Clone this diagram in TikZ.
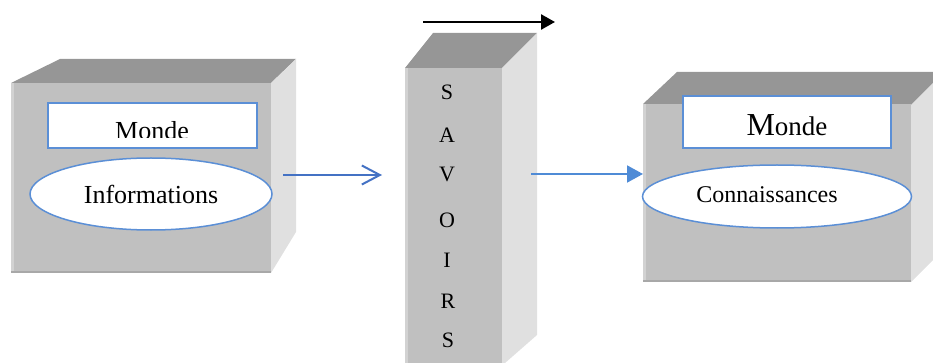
\documentclass[tikz,border=0pt]{standalone}
\usepackage{fontspec}
\setmainfont{Liberation Serif}
\usetikzlibrary{arrows.meta,shapes.geometric}
\definecolor{cfront}{HTML}{C0C0C0}
\definecolor{ctop}{HTML}{969696}
\definecolor{cside}{HTML}{E0E0E0}
\definecolor{cedgeL}{HTML}{D2D2D2}
\definecolor{cedgeB}{HTML}{A8A8A8}
\definecolor{bline}{HTML}{5B8FD6}
\definecolor{bdark}{HTML}{4472C4}
\definecolor{barrow}{HTML}{4F8BD6}
\begin{document}
\begin{tikzpicture}[x=1pt,y=-1pt,
  monbox/.style={draw=bline,line width=1.8pt,fill=white,rectangle,inner sep=0pt},
  ell/.style={draw=bline,line width=1.5pt,fill=white,ellipse,inner sep=0pt},
  txt/.style={inner sep=0pt,anchor=base},
  letter/.style={inner sep=0pt,anchor=base,font=\fontsize{22}{24}\selectfont},
  openarrow/.style={draw=bdark,line width=2pt,-{Straight Barb[length=18pt,width=19pt,line width=2pt]}},
  fillarrow/.style={draw=barrow,line width=2pt,-{Triangle[length=16pt,width=17pt]}},
  blackarrow/.style={draw=black,line width=2.5pt,-{Triangle[length=14pt,width=15pt]}}]
\useasboundingbox (0,0) rectangle (933,363);
\clip (0,0) rectangle (933,363);
% left cube
\fill[ctop] (11,83) -- (60,59) -- (296,59) -- (271,83) -- cycle;
\fill[cside] (271,83) -- (296,59) -- (296,232) -- (271,273) -- cycle;
\fill[cfront] (11,83) rectangle (271,273);
\fill[cedgeL] (11,83) rectangle (14,273);
\fill[cedgeB] (11,271) rectangle (271,273);
% middle column
\fill[ctop] (405,68) -- (433,33) -- (537,33) -- (502,68) -- cycle;
\fill[cside] (502,68) -- (537,33) -- (537,335) -- (505,363) -- (502,363) -- cycle;
\fill[cfront] (405,68) rectangle (502,363);
\fill[cedgeL] (405,68) rectangle (408,363);
% right cube
\fill[ctop] (643,104) -- (677,72) -- (944,72) -- (911,105) -- cycle;
\fill[cside] (911,105) -- (944,72) -- (944,249) -- (911,282) -- cycle;
\fill[cfront] (643,104) rectangle (911,282);
\fill[cedgeL] (643,104) rectangle (646,282);
\fill[cedgeB] (643,280) rectangle (911,282);
% left contents
\node[monbox,minimum width=209pt,minimum height=45pt] (m1) at (152.5,125.5) {};
\begin{scope}
\clip (50,105) rectangle (255,137.5);
\node[txt,font=\fontsize{26}{28}\selectfont] (m1t) at (152,139.5) {Monde};
\end{scope}
\node[ell,minimum width=242pt,minimum height=72pt,font=\fontsize{26}{28}\selectfont] (e1) at (151,194) {Informations};
% right contents
\node[monbox,minimum width=208pt,minimum height=52pt] (m2) at (787,122) {};
\node[txt] (m2t) at (787,136) {\fontsize{32}{34}\selectfont M\fontsize{27}{30}\selectfont onde};
\node[ell,minimum width=269pt,minimum height=63pt] (e2) at (777,196.5) {};
\node[txt,font=\fontsize{24}{26}\selectfont] (e2t) at (767,203) {Connaissances};
% SAVOIRS
\node[letter] (l1) at (447,100) {S};
\node[letter] (l2) at (447,143) {A};
\node[letter] (l3) at (447,182) {V};
\node[letter] (l4) at (447,227) {O};
\node[letter] (l5) at (447,267) {I};
\node[letter] (l6) at (448,308) {R};
\node[letter] (l7) at (448,347) {S};
% arrows
\coordinate (a1s) at (283,175);
\coordinate (a1e) at (382,175);
\coordinate (a2s) at (531,174);
\coordinate (a2e) at (643,174);
\coordinate (a3s) at (423,22);
\coordinate (a3e) at (555,22);
\draw[openarrow] (a1s) -- (a1e);
\draw[fillarrow] (a2s) -- (a2e);
\draw[blackarrow] (a3s) -- (a3e);
\end{tikzpicture}
\end{document}
